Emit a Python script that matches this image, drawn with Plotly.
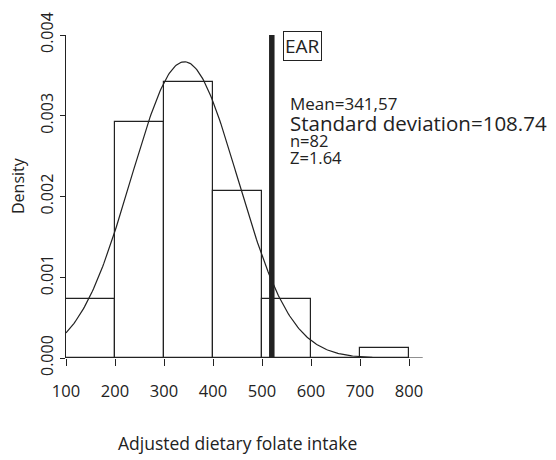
import numpy as np
import plotly.graph_objects as go

bin_left = [100, 200, 300, 400, 500, 600, 700]
bin_density = [0.000732, 0.002927, 0.003415, 0.002073, 0.000732, 0.0, 0.000122]
x_ticks = [100, 200, 300, 400, 500, 600, 700, 800]
y_ticks = [0.000, 0.001, 0.002, 0.003, 0.004]
y_tick_labels = ["0.000", "0.001", "0.002", "0.003", "0.004"]
mean_val = 341.57
sd_val = 108.74
ear_val = 520
stats_lines = ["Mean=341,57", "Standard deviation=108.74", "n=82", "Z=1.64"]

FONT = "Open Sans"
L, T, B = 66, 35, 358
W, H = 556, 460
# fitted normal curve from stated mean and sd
cx = np.linspace(100, 800, 300)
cy = np.exp(-0.5 * ((cx - mean_val) / sd_val) ** 2) / (sd_val * np.sqrt(2 * np.pi))

fig = go.Figure()
fig.add_trace(go.Bar(
    x=[b + 50 for b in bin_left], y=bin_density, width=100,
    marker=dict(color="white", line=dict(color="#222", width=1.2)),
    hoverinfo="skip", showlegend=False))
fig.add_trace(go.Scatter(x=cx, y=cy, mode="lines",
                         line=dict(color="#222", width=1.2), showlegend=False))
fig.add_trace(go.Scatter(x=[ear_val, ear_val], y=[0, 0.004], mode="lines",
                         line=dict(color="#222", width=5.5), showlegend=False))

fig.add_shape(type="line", xref="x", yref="y", x0=100, x1=828, y0=0, y1=0,
              line=dict(color="#222", width=1.2))

def pxy(px, py):
    return (px - L) / (W - L), (B - py) / (B - T)

fx, fy = pxy(0, 46.5)
fig.add_annotation(x=ear_val, xref="x", xshift=11, y=fy, yref="paper", yanchor="middle",
                   text="EAR", showarrow=False, xanchor="left",
                   font=dict(family=FONT, size=19, color="#222"),
                   bordercolor="#222", borderwidth=1, borderpad=1, bgcolor="white")

fig.update_layout(
    width=W, height=H,
    margin=dict(l=L, r=0, t=T, b=H - B),
    plot_bgcolor="white", paper_bgcolor="white",
    bargap=0,
    xaxis=dict(range=[100, 100 + (W - L) / 0.49], tickvals=x_ticks, ticks="outside",
               ticklen=7, tickcolor="#222", showline=False, showgrid=False,
               zeroline=False, automargin=False, ticklabelstandoff=11,
               tickfont=dict(family=FONT, size=16.5, color="#222")),
    yaxis=dict(range=[0, 0.004], tickvals=y_ticks, ticktext=y_tick_labels,
               ticks="outside", ticklen=5, tickcolor="#222", showline=True,
               linecolor="#222", linewidth=1.2, showgrid=False, zeroline=False,
               automargin=False, tickangle=-90, ticklabelstandoff=1,
               tickfont=dict(family=FONT, size=16, color="#222")),
)

for txt, py, sz in zip(stats_lines, [103, 123, 140, 157], [17, 20.5, 16.5, 16.5]):
    fx, fy = pxy(288, py)
    fig.add_annotation(x=fx, y=fy, xref="paper", yref="paper", text=txt,
                       showarrow=False, xanchor="left", yanchor="middle",
                       font=dict(family=FONT, size=sz, color="#222"))

fx, fy = pxy(237, 443)
fig.add_annotation(x=fx, y=fy, xref="paper", yref="paper",
                   text="Adjusted dietary folate intake", showarrow=False,
                   xanchor="center", yanchor="middle",
                   font=dict(family=FONT, size=17.5, color="#222"))
fx, fy = pxy(18, 186)
fig.add_annotation(x=fx, y=fy, xref="paper", yref="paper", text="Density",
                   textangle=-90, showarrow=False, xanchor="center", yanchor="middle",
                   font=dict(family=FONT, size=16, color="#222"))

fig.write_html("out.html", config={"displayModeBar": False},
               post_script="document.body.style.margin='0px';")
